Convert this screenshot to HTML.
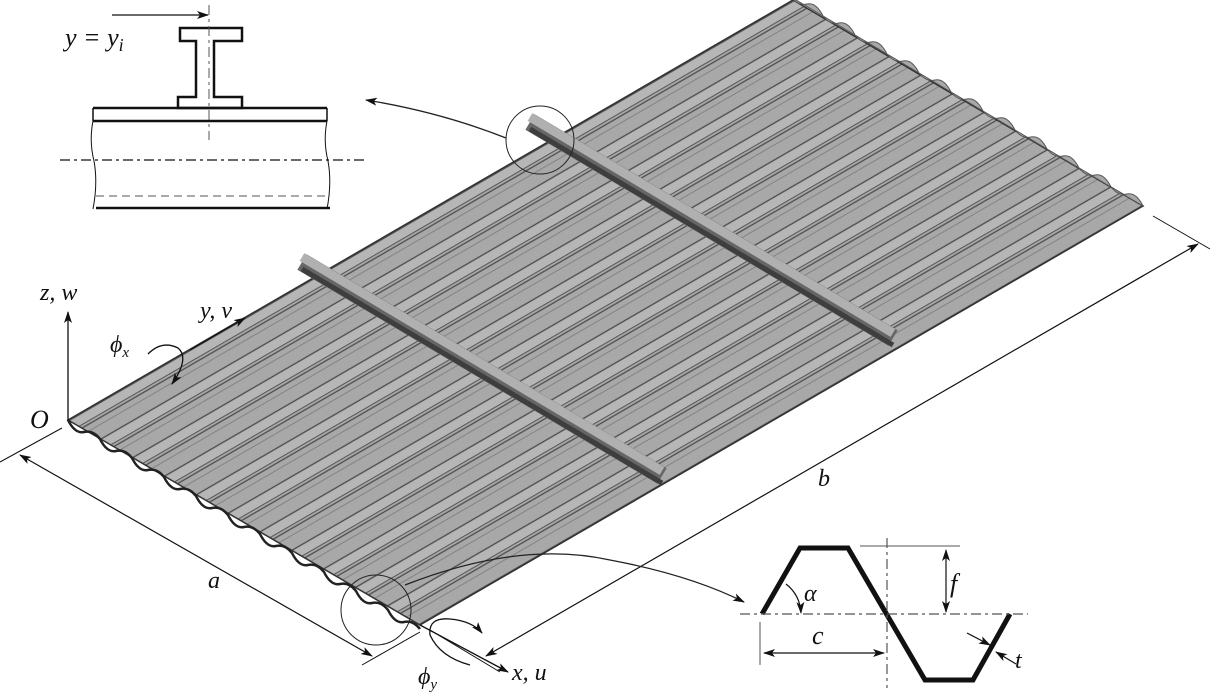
<!DOCTYPE html>
<html><head><meta charset="utf-8"><style>
html,body{margin:0;padding:0;background:#fff;}
svg{display:block;}
text{font-family:"Liberation Serif",serif;font-style:italic;fill:#111;}
</style></head><body>
<svg width="1213" height="698" viewBox="0 0 1213 698" xmlns="http://www.w3.org/2000/svg">
<defs>
<pattern id="rib" patternUnits="userSpaceOnUse" width="200" height="32" patternTransform="translate(68,420) rotate(-30.08)">
<rect width="200" height="32" fill="#a8a8a8"/>
<rect y="2" width="200" height="9" fill="#b6b6b6"/>
<line x1="0" y1="1" x2="200" y2="1" stroke="#4a4a4a" stroke-width="1.3"/>
<line x1="0" y1="11" x2="200" y2="11" stroke="#555" stroke-width="1.1"/>
<line x1="0" y1="14" x2="200" y2="14" stroke="#4a4a4a" stroke-width="1.3"/>
<line x1="0" y1="20" x2="200" y2="20" stroke="#777" stroke-width="0.8"/>
</pattern>
<marker id="ah" markerWidth="12" markerHeight="8" refX="11" refY="4" orient="auto" markerUnits="userSpaceOnUse"><path d="M0,0 L12,4 L0,8 L3,4Z" fill="#111"/></marker>
<marker id="ahs" markerWidth="12" markerHeight="8" refX="1" refY="4" orient="auto" markerUnits="userSpaceOnUse"><path d="M12,0 L0,4 L12,8 L9,4Z" fill="#111"/></marker>
</defs>

<!-- plate -->
<polygon points="68,420 793,0 1143,206 420,625" fill="url(#rib)" stroke="#333" stroke-width="1.5"/>
<!-- back wavy edge ridges -->
<path d="M1143,206 q-7,-14 -16,-12 q-9,2 -16,-7 q-7,-14 -16,-12 q-9,2 -16,-7 q-7,-14 -16,-12 q-9,2 -16,-7 q-7,-14 -16,-12 q-9,2 -16,-7 q-7,-14 -16,-12 q-9,2 -16,-7 q-7,-14 -16,-12 q-9,2 -16,-7 q-7,-14 -16,-12 q-9,2 -16,-7 q-7,-14 -16,-12 q-9,2 -16,-7 q-7,-14 -16,-12 q-9,2 -16,-7 q-7,-14 -16,-12 q-9,2 -16,-7 q-7,-14 -16,-12 q-9,2 -16,-7 Z" fill="#a8a8a8" stroke="#555" stroke-width="1"/>
<!-- front wavy edge -->
<path d="M68,420 q7,14 16,12 q9,-2 16,7 q7,14 16,12 q9,-2 16,7 q7,14 16,12 q9,-2 16,7 q7,14 16,12 q9,-2 16,7 q7,14 16,12 q9,-2 16,7 q7,14 16,12 q9,-2 16,7 q7,14 16,12 q9,-2 16,7 q7,14 16,12 q9,-2 16,7 q7,14 16,12 q9,-2 16,7 q7,14 16,12 q9,-2 16,7 q7,14 16,12 q9,-2 16,7" fill="none" stroke="#222" stroke-width="2.5"/>

<!-- beams -->
<g>
<line x1="302" y1="262" x2="662" y2="476" stroke="#666" stroke-width="18"/>
<line x1="302" y1="257" x2="662" y2="471" stroke="#b0b0b0" stroke-width="9"/>
<line x1="302" y1="269" x2="662" y2="483" stroke="#3e3e3e" stroke-width="5"/>
<line x1="530" y1="122" x2="893" y2="338" stroke="#666" stroke-width="18"/>
<line x1="530" y1="117" x2="893" y2="333" stroke="#b0b0b0" stroke-width="9"/>
<line x1="530" y1="129" x2="893" y2="345" stroke="#3e3e3e" stroke-width="5"/>
</g>

<!-- axes -->
<line x1="68" y1="420" x2="68" y2="312" stroke="#111" stroke-width="1.3" marker-end="url(#ah)"/>
<text x="40" y="300" font-size="24">z, w</text>
<line x1="190" y1="350" x2="245" y2="318" stroke="#111" stroke-width="1.3" marker-end="url(#ah)"/>
<text x="200" y="318" font-size="24">y, v</text>
<text x="110" y="352" font-size="24">ϕ<tspan font-size="15" dy="5">x</tspan></text>
<path d="M148,354 q14,-14 30,-6 q12,10 -6,36" fill="none" stroke="#111" stroke-width="1.3" marker-end="url(#ah)"/>
<text x="30" y="428" font-size="26">O</text>
<line x1="420" y1="625" x2="508" y2="672" stroke="#111" stroke-width="1.3" marker-end="url(#ah)"/>
<text x="512" y="680" font-size="24">x, u</text>
<text x="418" y="684" font-size="24">ϕ<tspan font-size="15" dy="5">y</tspan></text>
<path d="M470,665 q-30,-8 -40,-30 q-2,-18 20,-16 q22,2 32,14" fill="none" stroke="#111" stroke-width="1.3" marker-end="url(#ah)"/>

<!-- dimension a -->
<line x1="0" y1="462" x2="62" y2="428" stroke="#111" stroke-width="1"/>
<line x1="362" y1="665" x2="420" y2="632" stroke="#111" stroke-width="1"/>
<line x1="20" y1="455" x2="372" y2="656" stroke="#111" stroke-width="1.2" marker-start="url(#ahs)" marker-end="url(#ah)"/>
<text x="208" y="588" font-size="24">a</text>
<!-- dimension b -->
<line x1="1153" y1="216" x2="1210" y2="249" stroke="#111" stroke-width="1"/>
<line x1="430" y1="630" x2="500" y2="672" stroke="#111" stroke-width="1"/>
<line x1="486" y1="656" x2="1198" y2="244" stroke="#111" stroke-width="1.2" marker-start="url(#ahs)" marker-end="url(#ah)"/>
<text x="818" y="486" font-size="24">b</text>

<!-- circles and leaders -->
<circle cx="540" cy="140" r="34" fill="none" stroke="#222" stroke-width="1"/>
<path d="M506,138 Q440,112 366,100" fill="none" stroke="#222" stroke-width="1.3" marker-end="url(#ah)"/>
<circle cx="376" cy="610" r="35" fill="none" stroke="#222" stroke-width="1"/>
<path d="M405,585 Q520,540 610,560 Q690,575 744,602" fill="none" stroke="#222" stroke-width="1.3" marker-end="url(#ah)"/>

<!-- inset I-beam -->
<g fill="none" stroke="#111">
<path d="M180,28 H242 V41 H214 V97 H242 V108 H178 V97 H196 V41 H180 Z" stroke-width="2.5" fill="#fff"/>
<line x1="93" y1="108" x2="327" y2="108" stroke-width="2.5"/>
<line x1="93" y1="121" x2="327" y2="121" stroke-width="2.5"/>
<line x1="93" y1="108" x2="93" y2="121" stroke-width="1.5"/>
<line x1="327" y1="108" x2="327" y2="121" stroke-width="1.5"/>
<path d="M93,121 q-4,20 1,40 q4,22 -1,48" stroke-width="1"/>
<path d="M327,121 q-4,20 1,40 q4,22 -1,48" stroke-width="1"/>
<line x1="96" y1="208" x2="330" y2="208" stroke-width="2.5"/>
<line x1="96" y1="196" x2="330" y2="196" stroke-width="1" stroke-dasharray="8,5" stroke="#555"/>
<line x1="60" y1="160" x2="365" y2="160" stroke-width="1.2" stroke-dasharray="10,4,3,4"/>
<line x1="209" y1="5" x2="209" y2="140" stroke-width="1" stroke-dasharray="10,4,3,4" stroke="#555"/>
<line x1="112" y1="15" x2="208" y2="15" stroke-width="1.2" marker-end="url(#ah)"/>
</g>
<text x="65" y="46" font-size="26">y = y<tspan font-size="18" dy="5">i</tspan></text>

<!-- profile -->
<g fill="none" stroke="#111">
<path d="M762,614 L800,548 L848,548 L925,680 L973,680 L1010,614" stroke-width="5"/>
<line x1="740" y1="614" x2="1028" y2="614" stroke-width="1.2" stroke-dasharray="10,4,3,4" stroke="#555"/>
<line x1="887" y1="538" x2="887" y2="688" stroke-width="1.2" stroke-dasharray="10,4,3,4" stroke="#555"/>
<line x1="860" y1="546" x2="960" y2="546" stroke-width="1" stroke="#555"/>
<line x1="946" y1="550" x2="946" y2="612" stroke-width="1.2" marker-start="url(#ahs)" marker-end="url(#ah)"/>
<line x1="760" y1="622" x2="760" y2="665" stroke-width="1" stroke="#555"/>
<line x1="764" y1="653" x2="884" y2="653" stroke-width="1.2" marker-start="url(#ahs)" marker-end="url(#ah)"/>
<path d="M786,584 Q800,595 801,613" stroke-width="1.2" marker-end="url(#ah)"/>
<line x1="967" y1="633" x2="990" y2="645" stroke-width="1.2" marker-end="url(#ah)"/>
<line x1="1016" y1="664" x2="996" y2="652" stroke-width="1.2" marker-end="url(#ah)"/>
</g>
<text x="804" y="601" font-size="24">α</text>
<text x="950" y="592" font-size="26">f</text>
<text x="812" y="644" font-size="26">c</text>
<text x="1015" y="668" font-size="24">t</text>
</svg>
</body></html>
